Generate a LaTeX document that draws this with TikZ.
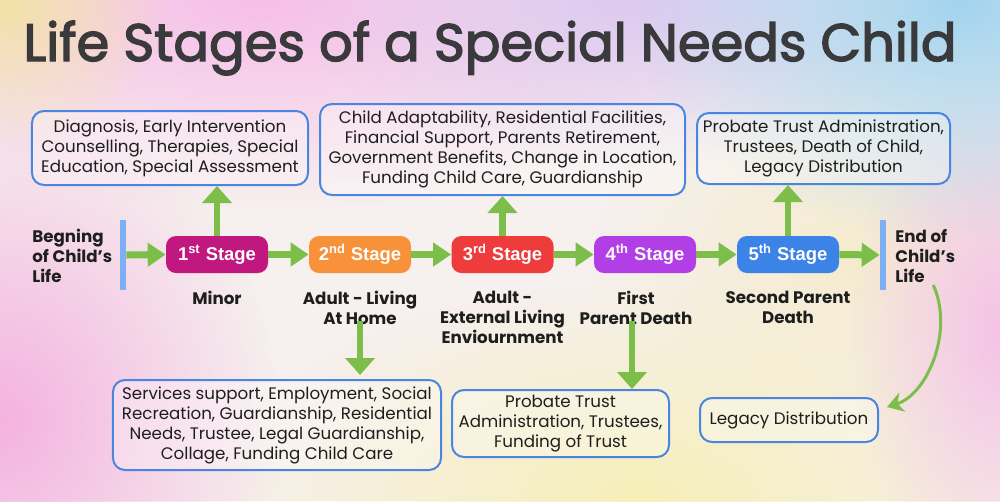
\documentclass[tikz,border=0pt]{standalone}
\usepackage{fontspec}
\setmainfont{Poppins}
\newfontfamily\stagefont{Liberation Sans}
\newfontfamily\titlefont{Poppins}[FakeBold=2.6]
\usetikzlibrary{arrows.meta,positioning,fadings,shapes}
\definecolor{boxblue}{HTML}{4A86E0}
\definecolor{arrgreen}{HTML}{7DBE4B}
\definecolor{barblue}{HTML}{7EAFF2}
\definecolor{sone}{HTML}{C0187E}
\definecolor{stwo}{HTML}{F7923A}
\definecolor{sthree}{HTML}{EE3B3B}
\definecolor{sfour}{HTML}{B23FE6}
\definecolor{sfive}{HTML}{3B83E6}
\definecolor{ink}{HTML}{1E1E1E}
\definecolor{titlegray}{HTML}{3A3A3C}
\definecolor{bgbase}{HTML}{F6F0EE}
\definecolor{toppink}{HTML}{F6BEE9}
\definecolor{toplav}{HTML}{DCCAF0}
\definecolor{topblue}{HTML}{A2D4EF}
\definecolor{cornery}{HTML}{F3E3A6}
\definecolor{leftpink}{HTML}{F4B2E0}
\definecolor{botyel}{HTML}{F7EFB8}
\definecolor{edgepink}{HTML}{F4C2E6}
\definecolor{midcream}{HTML}{F5ECCE}
\tikzfading[name=soft,inner color=transparent!0,outer color=transparent!100]

\begin{document}
\begin{tikzpicture}[x=0.2mm,y=-0.2mm,inner sep=0pt]
  \useasboundingbox(0,0)rectangle(1000,501);
  % pastel background
  \fill[bgbase](0,0)rectangle(1000,501);
  \fill[midcream,path fading=soft](850,260)ellipse(260 and 180);
  \fill[botyel,path fading=soft](640,501)ellipse(420 and 220);
  \fill[leftpink,path fading=soft](0,420)ellipse(280 and 320);
  \fill[edgepink,path fading=soft](1000,330)ellipse(150 and 260);
  \fill[toppink,path fading=soft](260,0)ellipse(520 and 210);
  \fill[toplav,path fading=soft](620,0)ellipse(320 and 170);
  \fill[topblue,path fading=soft](960,0)ellipse(330 and 240);
  \fill[cornery,path fading=soft](0,0)ellipse(170 and 150);
  \tikzstyle{stagebox}=[rounded corners=2mm,minimum width=20.4mm,minimum height=7.4mm,text=white,font=\stagefont\bfseries\fontsize{10.5}{13}\selectfont]
  \tikzstyle{info}=[draw=boxblue,line width=0.4mm,rounded corners=2.4mm,fill=white,fill opacity=0.3,text opacity=1,align=center,text=ink,font=\fontsize{9.5}{11.4}\selectfont]
  \tikzstyle{lbl}=[align=center,text=ink,font=\bfseries\fontsize{9.5}{11.4}\selectfont]
  \tikzstyle{bar}=[fill=barblue,minimum width=1.2mm,minimum height=14mm]
  \node[text=titlegray,font=\titlefont\fontsize{30}{32}\selectfont](title)at(490,48){Life Stages of a Special Needs Child};
  \node[bar](lb)at(123,255){};
  \node[bar](rb)at(883,255){};
  \node[lbl,anchor=west,align=left](bgn)at(32,256){Begning\\of Child’s\\Life};
  \node[lbl,anchor=west,align=left](fin)at(895,256){End of\\Child’s\\Life};
  \node[stagebox,fill=sone](s1)at(217,254.5){1\textsuperscript{st} Stage};
  \node[stagebox,fill=stwo](s2)at(360,254.5){2\textsuperscript{nd} Stage};
  \node[stagebox,fill=sthree](s3)at(502.5,254.5){3\textsuperscript{rd} Stage};
  \node[stagebox,fill=sfour](s4)at(645,254.5){4\textsuperscript{th} Stage};
  \node[stagebox,fill=sfive](s5)at(788,254.5){5\textsuperscript{th} Stage};
  \node[lbl,below=3.4mm of s1](l1){Minor};
  \node[lbl,below=3.4mm of s2](l2){Adult - Living\\At Home};
  \node[lbl,below=3.4mm of s3](l3){Adult -\\External Living\\Enviournment};
  \node[lbl,below=3.4mm of s4,xshift=-1.8mm](l4){First\\Parent Death};
  \node[lbl,below=3.4mm of s5](l5){Second Parent\\Death};
  \node[info,minimum width=55.2mm,minimum height=14.8mm](a1)at(170,148){Diagnosis, Early Intervention\\Counselling, Therapies, Special\\Education, Special Assessment};
  \node[info,minimum width=73mm,minimum height=18.2mm](a3)at(502.5,149.5){Child Adaptability, Residential Facilities,\\Financial Support, Parents Retirement,\\Government Benefits, Change in Location,\\Funding Child Care, Guardianship};
  \node[info,minimum width=50.6mm,minimum height=14.2mm](a5)at(823.5,148.5){Probate Trust Administration,\\Trustees, Death of Child,\\Legacy Distribution};
  \node[info,minimum width=65.6mm,minimum height=18mm](b2)at(277,425){Services support, Employment, Social\\Recreation, Guardianship, Residential\\Needs, Trustee, Legal Guardianship,\\Collage, Funding Child Care};
  \node[info,minimum width=43.4mm,minimum height=13.4mm](b4)at(560.5,423.5){Probate Trust\\Administration, Trustees,\\Funding of Trust};
  \node[info,minimum width=35.6mm,minimum height=8.8mm](leg)at(789,420){Legacy Distribution};
  \tikzstyle{e}=[-{Triangle[length=3.6mm,width=4.6mm]},draw=arrgreen,line width=1.4mm]
  \tikzstyle{ev}=[-{Triangle[length=3.4mm,width=5.8mm]},draw=arrgreen,line width=1.3mm]
  \foreach\o/\d in{lb/s1,s1/s2,s2/s3,s3/s4,s4/s5,s5/rb}{\draw[e](\o.east)--(\d.west);}
  \foreach\o/\d in{s1/a1,s3/a3,s5/a5}{\draw[ev](\o.north)--(\o.north|-\d.south);}
  \draw[ev]([yshift=0.8mm]l2.south)--([yshift=0.8mm]l2.south|-b2.north);
  \draw[ev]([yshift=0.8mm,xshift=-0.8mm]l4.south)--([xshift=-0.8mm]l4.south|-b4.north);
  \draw[-{Stealth[length=3.2mm,width=4mm,inset=1mm]},draw=arrgreen,line width=0.6mm]([xshift=1.6mm,yshift=-0.4mm]fin.south).. controls(954,330)and(928,394)..([xshift=1.6mm,yshift=2.6mm]leg.east);
\end{tikzpicture}
\end{document}
